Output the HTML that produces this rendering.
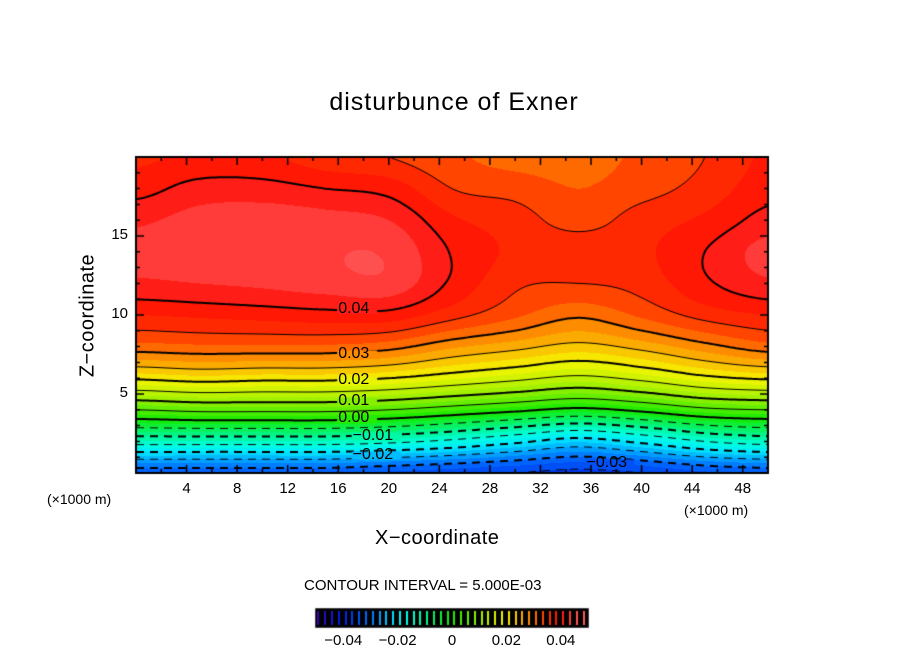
<!DOCTYPE html>
<html><head><meta charset="utf-8"><style>
body{margin:0;background:#fff;}
#wrap{position:relative;width:904px;height:654px;overflow:hidden;font-family:"Liberation Sans",sans-serif;}
.t{position:absolute;white-space:nowrap;color:#000;}
canvas{position:absolute;left:0;top:0;}
</style></head><body>
<div id="wrap">
<canvas id="c" width="904" height="654"></canvas>
<div class="t" style="left:0;width:904px;text-align:center;top:88px;font-size:25px;letter-spacing:1px;padding-left:2px">disturbunce of Exner</div>
<div class="t" style="left:375px;top:527px;font-size:20px;letter-spacing:0.5px">X−coordinate</div>
<div class="t" style="left:-12px;top:304px;font-size:20px;transform:rotate(-90deg);width:200px;text-align:center;letter-spacing:0.5px">Z−coordinate</div>
<div class="t" style="left:47px;top:491px;font-size:14px">(×1000 m)</div>
<div class="t" style="left:684px;top:502px;font-size:14px">(×1000 m)</div>
<div class="t" style="left:304px;top:577px;font-size:15px">CONTOUR INTERVAL = 5.000E-03</div>
<div id="labels"></div>
</div>
<script>
// data grid: rows are z = 0..20 step 2, columns x = 0..50 step 5
const xs=[0,5,10,15,20,25,30,35,40,45,50];
const zs=[0,2,4,6,8,10,12,14,16,18,20];
const col0=[-0.032,-0.013,0.005,0.0205,0.0315,0.0375,0.042,0.0435,0.042,0.039,0.037];
const col5=[-0.032,-0.013,0.006,0.0215,0.032,0.038,0.0425,0.044,0.0435,0.041,0.038];
const col10=[-0.032,-0.013,0.006,0.021,0.032,0.0385,0.043,0.0442,0.044,0.041,0.038];
const col15=[-0.032,-0.013,0.006,0.021,0.032,0.039,0.0438,0.0448,0.0435,0.040,0.036];
const col20=[-0.033,-0.014,0.005,0.020,0.031,0.039,0.0442,0.0446,0.0425,0.039,0.035];
const col25=[-0.034,-0.016,0.003,0.018,0.028,0.036,0.0395,0.0398,0.038,0.035,0.033];
const col30=[-0.035,-0.019,0.001,0.016,0.026,0.033,0.0355,0.037,0.0362,0.034,0.0315];
const col35=[-0.036,-0.022,-0.001,0.014,0.024,0.0305,0.035,0.0365,0.034,0.0325,0.0315];
const col40=[-0.035,-0.019,0.001,0.016,0.026,0.033,0.036,0.037,0.0362,0.034,0.033];
const col45=[-0.033,-0.015,0.004,0.019,0.029,0.036,0.0395,0.040,0.038,0.036,0.035];
const col50=[-0.032,-0.013,0.005,0.0205,0.0315,0.0375,0.042,0.0435,0.041,0.039,0.038];
const cols=[col0,col5,col10,col15,col20,col25,col30,col35,col40,col45,col50];
const xTicks=[4,8,12,16,20,24,28,32,36,40,44,48];
const zTicks=[5,10,15];
const cbTicks=[-0.04,-0.02,0,0.02,0.04];
const cbLabels=["−0.04","−0.02","0","0.02","0.04"];
const contourLabels=[{v:"0.04",x:17.5,z:10.3},{v:"0.03",x:17.5,z:7.5},{v:"0.02",x:17.5,z:5.8},{v:"0.01",x:17.5,z:4.5},{v:"0.00",x:17.5,z:3.4},{v:"−0.01",x:19,z:2.3},{v:"−0.02",x:19,z:1.1},{v:"−0.03",x:37.5,z:0.6}];

const X0=136,X1=768,Y0=157,Y1=473;
const sx=x=>X0+(x/50)*(X1-X0);
const sy=z=>Y1-(z/20)*(Y1-Y0);
const stops=[[-0.05,[60,0,170]],[-0.04,[0,30,230]],[-0.03,[0,110,255]],[-0.02,[0,235,255]],[-0.015,[0,255,220]],[-0.01,[0,245,150]],[0,[20,235,0]],[0.01,[150,240,0]],[0.02,[245,245,0]],[0.03,[255,125,0]],[0.035,[255,50,0]],[0.04,[255,15,5]],[0.045,[255,75,75]],[0.05,[255,95,95]]];
function cmap(v){
  v=Math.floor(v/0.0025)*0.0025+0.00125;
  if(v<=stops[0][0])return stops[0][1];
  for(let i=1;i<stops.length;i++){if(v<=stops[i][0]){const a=stops[i-1],b=stops[i];const t=(v-a[0])/(b[0]-a[0]);
    return [0,1,2].map(k=>Math.round(a[1][k]+t*(b[1][k]-a[1][k])));}}
  return stops[stops.length-1][1];
}
function cr(p0,p1,p2,p3,t){return 0.5*((2*p1)+(-p0+p2)*t+(2*p0-5*p1+4*p2-p3)*t*t+(-p0+3*p1-3*p2+p3)*t*t*t);}
function g2(i,j){i=Math.max(0,Math.min(10,i));j=Math.max(0,Math.min(10,j));return cols[i][j];}
function val(x,z){
  let fx=Math.min(Math.max(x/5,0),9.9999), fz=Math.min(Math.max(z/2,0),9.9999);
  let i=Math.floor(fx), j=Math.floor(fz), a=fx-i, b=fz-j;
  const r=[];
  for(let dj=-1;dj<=2;dj++)r.push(cr(g2(i-1,j+dj),g2(i,j+dj),g2(i+1,j+dj),g2(i+2,j+dj),a));
  return cr(r[0],r[1],r[2],r[3],b);
}
const c=document.getElementById('c'),g=c.getContext('2d');
const W=X1-X0,H=Y1-Y0;
const img=g.createImageData(W,H);
for(let py=0;py<H;py++)for(let px=0;px<W;px++){
  const x=(px+0.5)/W*50,z=(H-py-0.5)/H*20;
  const col=cmap(val(x,z));const o=(py*W+px)*4;
  img.data[o]=col[0];img.data[o+1]=col[1];img.data[o+2]=col[2];img.data[o+3]=255;
}
g.putImageData(img,X0,Y0);
// contours via marching squares
const N=2;
g.strokeStyle='#000';
for(let L=-7;L<=8;L++){
  const lv=L*0.005;
  g.lineWidth=(L%2===0)?2:1;
  g.beginPath();
  for(let py=0;py<H;py+=N)for(let px=0;px<W;px+=N){
    const p=[[px,py],[px+N,py],[px+N,py+N],[px,py+N]];
    const v=p.map(q=>val(q[0]/W*50,(H-q[1])/H*20));
    const pts=[];
    for(let e=0;e<4;e++){const a=e,b=(e+1)%4;
      if((v[a]-lv)*(v[b]-lv)<0){const t=(lv-v[a])/(v[b]-v[a]);
        pts.push([p[a][0]+t*(p[b][0]-p[a][0]),p[a][1]+t*(p[b][1]-p[a][1])]);}}
    if(pts.length>=2){
      if(L<0 && Math.floor(px/7)%2===1) continue;
      g.moveTo(X0+pts[0][0],Y0+pts[0][1]);g.lineTo(X0+pts[1][0],Y0+pts[1][1]);
      if(pts.length===4){g.moveTo(X0+pts[2][0],Y0+pts[2][1]);g.lineTo(X0+pts[3][0],Y0+pts[3][1]);}
    }
  }
  g.stroke();
}
// contour labels
const lab=document.getElementById('labels');
contourLabels.forEach(o=>{
  const w=o.v.length*9+6;
  const cx=sx(o.x),cy=sy(o.z);
  const d=document.createElement('div');
  d.className='t';
  
  
  d.style.left=(cx-w/2+2)+'px';d.style.top=(cy-10)+'px';d.style.fontSize='16px';
  d.textContent=o.v;
  lab.appendChild(d);
  const col=cmap(val(o.x,o.z));
  g.fillStyle=`rgb(${col[0]},${col[1]},${col[2]})`;
  g.fillRect(cx-w/2+1,cy-4,w-2,8);
});
// frame & ticks
g.strokeStyle='#000';g.lineWidth=2;g.strokeRect(X0,Y0,W,H);
g.lineWidth=1.5;g.beginPath();
for(let x=2;x<50;x+=2){const L=(x%4===0)?8:4;const X=sx(x);
  g.moveTo(X,Y1);g.lineTo(X,Y1-L);g.moveTo(X,Y0);g.lineTo(X,Y0+L);}
for(let z=1;z<20;z++){const L=(z%5===0)?8:4;const Y=sy(z);
  g.moveTo(X0,Y);g.lineTo(X0+L,Y);g.moveTo(X1,Y);g.lineTo(X1-L,Y);}
g.stroke();
xTicks.forEach(x=>{
  const d=document.createElement('div');d.className='t';
  
  
  d.style.left=(sx(x)-20)+'px';d.style.width='40px';d.style.textAlign='center';
  d.style.top='480px';d.style.fontSize='15px';d.textContent=x;lab.appendChild(d);
});
zTicks.forEach(z=>{
  const d=document.createElement('div');d.className='t';
  
  
  d.style.left='90px';d.style.width='38px';d.style.textAlign='right';
  d.style.top=(sy(z)-10)+'px';d.style.fontSize='15px';d.textContent=z;lab.appendChild(d);
});
// colorbar
const CB0=316,CB1=588,CBy=609,CBh=18;
const cbx=v=>CB0+(v+0.05)/0.1*(CB1-CB0);
g.fillStyle='#000';g.fillRect(CB0,CBy,CB1-CB0,CBh);
for(let v=-0.0495;v<0.05;v+=0.0025){
  const col=cmap(v);
  g.fillStyle=`rgb(${col[0]},${col[1]},${col[2]})`;
  g.fillRect(Math.round(cbx(v)),CBy+2,2,CBh-4);
}
g.lineWidth=1.5;g.strokeStyle='#000';g.strokeRect(CB0,CBy,CB1-CB0,CBh);
cbTicks.forEach((v,i)=>{
  const d=document.createElement('div');d.className='t';
  
  
  d.style.left=(cbx(v)-30)+'px';d.style.width='60px';d.style.textAlign='center';
  d.style.top='632px';d.style.fontSize='15px';d.textContent=cbLabels[i];lab.appendChild(d);
});
</script>
</body></html>
